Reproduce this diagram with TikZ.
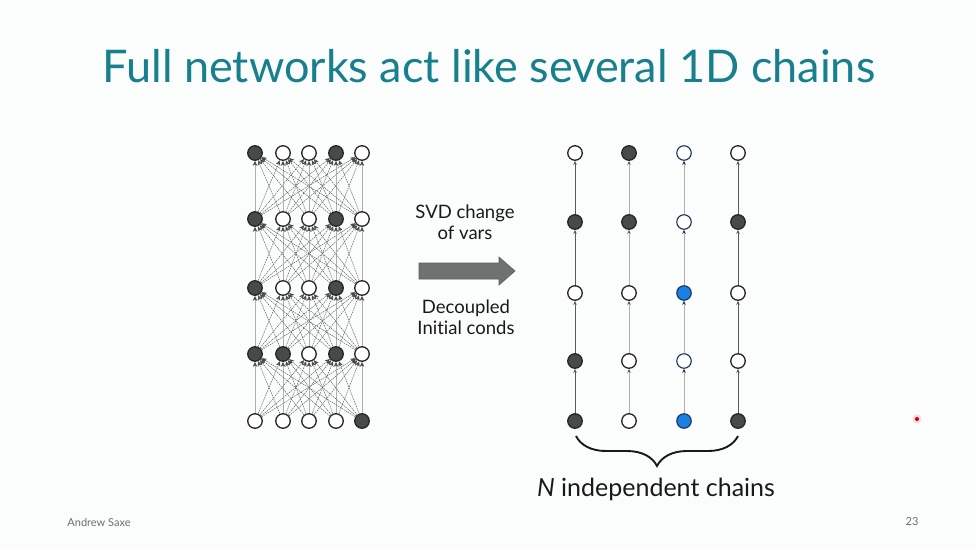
\documentclass[tikz,border=0pt]{standalone}
\usepackage{fontspec}
\setmainfont[Ligatures=NoCommon]{Lato}
\usetikzlibrary{arrows.meta,decorations.pathreplacing}
\definecolor{bgcol}{RGB}{251,253,253}
\definecolor{titlecol}{RGB}{24,128,140}
\definecolor{darkfill}{RGB}{72,74,74}
\definecolor{bluefill}{RGB}{28,128,226}
\definecolor{navy}{RGB}{22,52,84}
\definecolor{edgegray}{RGB}{90,90,90}
\definecolor{vertgray}{RGB}{175,175,175}
\definecolor{arrowfill}{RGB}{112,114,114}
\definecolor{footgray}{RGB}{110,110,110}
\tikzset{
  nd/.style={circle,draw=black!85,line width=1.3pt,minimum size=14.5pt,inner sep=0pt,fill=white},
  dk/.style={nd,fill=darkfill},
  bl/.style={nd,draw=navy,line width=1.1pt},
  blf/.style={bl,fill=bluefill},
  diag/.style={draw=edgegray,line width=0.45pt,dash pattern=on 1.6pt off 0.8pt,-{Stealth[length=5pt,width=4.5pt,color=darkfill]}},
  vert/.style={draw=vertgray,line width=0.6pt,-{Stealth[length=5pt,width=4.5pt,color=darkfill]}},
  chaindark/.style={draw=edgegray,line width=0.7pt,-{Stealth[length=4pt,width=3.5pt]}},
  chainlight/.style={draw=vertgray,line width=0.7pt,-{Stealth[length=4pt,width=3.5pt,color=edgegray]}},
  chainblue/.style={draw=vertgray,line width=0.7pt,-{Stealth[length=4pt,width=3.5pt,color=navy]}},
  lbl/.style={font=\fontsize{18.5}{21}\selectfont,align=center,text=black!90}
}
\begin{document}
\begin{tikzpicture}[x=1pt,y=-1pt]
\fill[bgcol] (0,0) rectangle (976,549);
\useasboundingbox (0,0) rectangle (976,549);
% title
\node[text=titlecol,font=\fontsize{45}{54}\selectfont] (title) at (489,66) {Full networks act like several 1D chains};
% left network
\def\xa{255}\def\xb{283}\def\xc{309}\def\xd{336}\def\xe{362}
% row 1
\node[dk] (L-1-1) at (\xa,153) {};
\node[nd] (L-1-2) at (\xb,153) {};
\node[nd] (L-1-3) at (\xc,153) {};
\node[dk] (L-1-4) at (\xd,153) {};
\node[nd] (L-1-5) at (\xe,153) {};
% row 2
\node[dk] (L-2-1) at (\xa,219) {};
\node[nd] (L-2-2) at (\xb,219) {};
\node[nd] (L-2-3) at (\xc,219) {};
\node[dk] (L-2-4) at (\xd,219) {};
\node[nd] (L-2-5) at (\xe,219) {};
% row 3
\node[dk] (L-3-1) at (\xa,288) {};
\node[nd] (L-3-2) at (\xb,288) {};
\node[nd] (L-3-3) at (\xc,288) {};
\node[dk] (L-3-4) at (\xd,288) {};
\node[nd] (L-3-5) at (\xe,288) {};
% row 4
\node[dk] (L-4-1) at (\xa,354) {};
\node[dk] (L-4-2) at (\xb,354) {};
\node[nd] (L-4-3) at (\xc,354) {};
\node[dk] (L-4-4) at (\xd,354) {};
\node[nd] (L-4-5) at (\xe,354) {};
% row 5
\node[nd] (L-5-1) at (\xa,421) {};
\node[nd] (L-5-2) at (\xb,421) {};
\node[nd] (L-5-3) at (\xc,421) {};
\node[nd] (L-5-4) at (\xd,421) {};
\node[dk] (L-5-5) at (\xe,421) {};
% edges
\foreach \r in {1,...,4}{
  \pgfmathtruncatemacro{\s}{\r+1}
  \foreach \i in {1,...,5}{
    \foreach \j in {1,...,5}{
      \ifnum\i=\j
        \draw[vert] (L-\s-\i) -- (L-\r-\j);
      \else
        \draw[diag] (L-\s-\i) -- (L-\r-\j);
      \fi
    }
  }
}
% block arrow
\draw[fill=arrowfill,draw=arrowfill!80!black,line width=0.6pt]
  (419,263) -- (499,263) -- (499,257) -- (515,271) -- (499,285) -- (499,279) -- (419,279) -- cycle;
\node[lbl] (svd) at (465,222) {SVD change\\of vars};
\node[lbl] (dec) at (466,317) {Decoupled\\Initial conds};
% right chains
\def\ra{153}\def\rb{222}\def\rc{293}\def\rd{361}\def\re{421}
% column 1
\node[nd] (A-1) at (575,\ra) {};
\node[dk] (A-2) at (575,\rb) {};
\node[nd] (A-3) at (575,\rc) {};
\node[dk] (A-4) at (575,\rd) {};
\node[dk] (A-5) at (575,\re) {};
% column 2
\node[dk] (B-1) at (629,\ra) {};
\node[dk] (B-2) at (629,\rb) {};
\node[nd] (B-3) at (629,\rc) {};
\node[nd] (B-4) at (629,\rd) {};
\node[nd] (B-5) at (629,\re) {};
% column 3
\node[bl] (C-1) at (684,\ra) {};
\node[bl] (C-2) at (684,\rb) {};
\node[blf] (C-3) at (684,\rc) {};
\node[bl] (C-4) at (684,\rd) {};
\node[blf] (C-5) at (684,\re) {};
% column 4
\node[nd] (D-1) at (738,\ra) {};
\node[dk] (D-2) at (738,\rb) {};
\node[nd] (D-3) at (738,\rc) {};
\node[nd] (D-4) at (738,\rd) {};
\node[dk] (D-5) at (738,\re) {};
\foreach \r in {1,...,4}{
  \pgfmathtruncatemacro{\s}{\r+1}
  \draw[chaindark] (A-\s) -- (A-\r);
  \draw[chainlight] (B-\s) -- (B-\r);
  \draw[chainblue] (C-\s) -- (C-\r);
  \draw[chaindark] (D-\s) -- (D-\r);
}
% brace
\coordinate (brL) at (576,436);
\coordinate (brR) at (738,436);
\draw[line width=1.9pt,black!90,decorate,decoration={brace,mirror,amplitude=30pt,aspect=0.5}] (brL) -- (brR);
\node[font=\fontsize{25}{30}\selectfont,text=black!90] (nchains) at (656,489) {\textit{N} independent chains};
% footer
\node[font=\fontsize{11}{13}\selectfont,text=footgray] (author) at (99,522) {Andrew Saxe};
\node[font=\fontsize{11}{13}\selectfont,text=footgray] (page) at (912,522) {23};
% laser pointer dot
\fill[red!40,opacity=0.35] (917,419) circle (4.5);
\fill[red!80!black] (917,419) circle (2);
\end{tikzpicture}
\end{document}
